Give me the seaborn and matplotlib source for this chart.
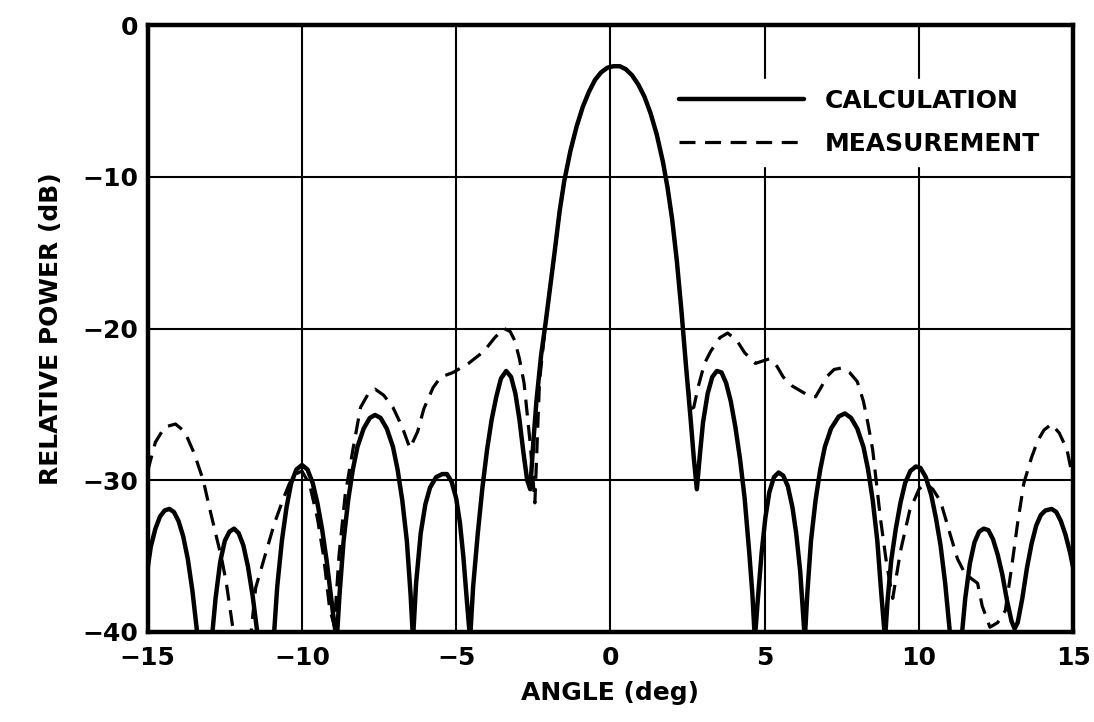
import numpy as np
import pandas as pd
import matplotlib
matplotlib.use("Agg")
import matplotlib.pyplot as plt
import seaborn as sns

# calculated pattern (solid), lobe by lobe
calc_angle = [-15.0, -14.9, -14.75, -14.6, -14.45, -14.3, -14.15, -14.0, -13.85, -13.7, -13.55, -13.4, -13.15,
              -12.9, -12.8, -12.65, -12.5, -12.35, -12.2, -12.05, -11.9, -11.75, -11.6, -11.45, -11.15,
              -10.9, -10.8, -10.65, -10.5, -10.35, -10.18, -10.0, -9.82, -9.65, -9.5, -9.35, -9.2, -9.05, -8.95,
              -8.87, -8.78, -8.65, -8.5, -8.35, -8.2, -8.0, -7.8, -7.63, -7.45, -7.25, -7.05, -6.9, -6.75, -6.6, -6.48,
              -6.4, -6.3, -6.15, -6.0, -5.85, -5.65, -5.45, -5.3, -5.15, -5.0, -4.88, -4.77, -4.66,
              -4.55, -4.45, -4.3, -4.15, -4.0, -3.85, -3.7, -3.55, -3.38, -3.22, -3.08, -2.95, -2.82, -2.7,
              -2.6, -2.5, -2.4, -2.25, -2.1, -1.95, -1.8, -1.65, -1.5, -1.3, -1.1, -0.9, -0.7, -0.5, -0.3, -0.1,
              0.1, 0.3, 0.5, 0.7, 0.9, 1.1, 1.3, 1.5, 1.7, 1.85, 2.0, 2.15, 2.3, 2.45, 2.6, 2.7,
              2.8, 2.9, 3.0, 3.15, 3.3, 3.45, 3.6, 3.75, 3.9, 4.05, 4.2, 4.35, 4.5, 4.6,
              4.68, 4.78, 4.9, 5.02, 5.15, 5.3, 5.45, 5.6, 5.75, 5.9, 6.02, 6.15,
              6.3, 6.38, 6.5, 6.65, 6.8, 6.95, 7.15, 7.4, 7.6, 7.8, 8.0, 8.2, 8.35, 8.5, 8.65, 8.78,
              8.9, 8.98, 9.1, 9.25, 9.4, 9.55, 9.72, 9.9, 10.05, 10.22, 10.4, 10.55, 10.7, 10.85, 11.0, 11.2,
              11.4, 11.5, 11.65, 11.8, 11.95, 12.1, 12.25, 12.4, 12.55, 12.7, 12.85, 13.0, 13.1,
              13.2, 13.35, 13.5, 13.65, 13.8, 13.95, 14.1, 14.3, 14.45, 14.6, 14.75, 14.9, 15.0]
calc_db = [-35.8, -34.4, -33.2, -32.4, -32.0, -31.9, -32.1, -32.7, -33.7, -35.2, -37.3, -40.0, -46.0,
           -40.0, -37.8, -35.4, -34.0, -33.4, -33.2, -33.5, -34.3, -35.7, -37.6, -40.0, -46.0,
           -40.0, -37.0, -34.0, -31.8, -30.2, -29.3, -29.0, -29.3, -30.2, -31.5, -33.2, -35.3, -37.8, -39.5,
           -40.5, -37.5, -34.0, -31.3, -29.3, -27.8, -26.6, -25.9, -25.7, -25.9, -26.6, -27.8, -29.3, -31.3, -34.0, -37.5,
           -40.5, -36.8, -33.5, -31.6, -30.5, -29.8, -29.6, -29.6, -30.1, -31.2, -32.8, -35.0, -37.8,
           -40.5, -37.0, -33.5, -30.5, -28.0, -26.0, -24.5, -23.3, -22.8, -23.2, -24.3, -26.0, -28.2, -30.0,
           -30.6, -27.5, -24.8, -21.8, -19.6, -17.2, -14.8, -12.3, -10.3, -8.3, -6.7, -5.4, -4.4, -3.6, -3.1, -2.8,
           -2.7, -2.7, -2.9, -3.3, -3.9, -4.7, -5.8, -7.2, -9.0, -10.7, -12.8, -15.5, -18.8, -22.5, -26.0, -28.5,
           -30.6, -28.3, -26.2, -24.3, -23.2, -22.8, -22.9, -23.6, -24.8, -26.5, -28.6, -31.2, -34.8, -37.5,
           -40.5, -37.8, -34.8, -32.5, -30.8, -29.8, -29.5, -29.7, -30.4, -31.8, -33.5, -36.0,
           -40.5, -37.5, -34.0, -31.3, -29.3, -27.8, -26.6, -25.8, -25.6, -25.9, -26.6, -27.8, -29.3, -31.3, -34.0, -37.5,
           -40.5, -38.0, -35.3, -33.2, -31.5, -30.2, -29.4, -29.1, -29.2, -29.8, -31.0, -32.5, -34.3, -36.8, -40.0, -46.0,
           -40.0, -37.8, -35.5, -34.1, -33.4, -33.2, -33.3, -33.9, -34.9, -36.2, -37.9, -39.3, -39.8,
           -39.4, -37.8, -35.8, -34.2, -33.0, -32.3, -32.0, -31.9, -32.1, -32.7, -33.6, -34.8, -35.8]

# measured pattern (dashed)
meas_angle = [-15.0, -14.75, -14.45, -14.1, -13.8, -13.5, -13.2, -13.0, -12.8, -12.6,
              -12.45, -12.25, -12.15, -11.8, -11.5, -11.2, -10.9, -10.6, -10.4, -10.2, -10.0,
              -9.75, -9.5, -9.3, -9.1, -8.95, -8.8, -8.6, -8.35, -8.1, -7.85, -7.63,
              -7.35, -7.05, -6.75, -6.5, -6.25, -6.05, -5.75, -5.5, -5.1, -4.6, -4.1,
              -3.75, -3.45, -3.25, -3.1, -2.95, -2.8, -2.6, -2.45, -2.3, -2.1, -1.95, -1.8, -1.65,
              -1.5, -1.3, -1.1, -0.9, -0.7, -0.5, -0.3, -0.1, 0.1, 0.3, 0.5, 0.7, 0.9, 1.1,
              1.3, 1.5, 1.7, 1.85, 2.0, 2.15, 2.3, 2.45, 2.6, 2.7,
              2.85, 3.05, 3.25, 3.55, 3.8, 4.1, 4.35, 4.7, 5.15, 5.4, 5.6, 5.9, 6.15,
              6.4, 6.65, 6.85, 7.0, 7.25, 7.5, 7.75, 8.0, 8.2, 8.35, 8.5, 8.75, 8.95,
              9.15, 9.4, 9.7, 10.0, 10.2, 10.45, 10.7, 11.0, 11.25, 11.45, 11.7, 11.9,
              12.05, 12.3, 12.55, 12.8, 13.0, 13.2, 13.4, 13.65, 13.85, 14.05, 14.3,
              14.55, 14.8, 15.0]
meas_db = [-29.4, -27.5, -26.5, -26.3, -26.8, -28.2, -30.0, -31.8, -33.5, -35.2,
           -36.8, -39.6, -40.5, -43.0, -37.1, -35.0, -32.9, -31.2, -30.2, -29.6, -29.4,
           -30.3, -32.5, -35.0, -38.5, -39.6, -35.0, -31.0, -28.0, -25.2, -24.3, -24.0,
           -24.4, -25.2, -26.5, -27.9, -26.8, -25.3, -23.9, -23.2, -22.9, -22.3, -21.5,
           -20.6, -20.0, -20.2, -20.8, -22.0, -23.6, -27.6, -31.5, -23.5, -19.6, -17.2, -14.8, -12.3,
           -10.3, -8.3, -6.7, -5.4, -4.4, -3.6, -3.1, -2.8, -2.7, -2.7, -2.9, -3.3, -3.9, -4.7,
           -5.8, -7.2, -9.0, -10.7, -12.8, -15.5, -18.8, -22.5, -25.3, -25.2,
           -23.8, -22.3, -21.5, -20.6, -20.3, -20.8, -21.6, -22.3, -22.0, -22.5, -23.2, -23.8, -24.1,
           -24.4, -24.5, -23.8, -23.2, -22.7, -22.6, -22.9, -23.5, -24.8, -26.3, -28.0, -32.5, -35.5,
           -37.8, -34.7, -32.0, -30.6, -30.2, -30.6, -31.4, -33.5, -35.2, -36.0, -36.5, -36.8,
           -38.3, -39.7, -39.4, -38.6, -35.8, -32.8, -30.2, -28.5, -27.4, -26.7, -26.3,
           -26.9, -28.0, -30.0]

calc = pd.DataFrame({"angle": calc_angle, "db": calc_db})
meas = pd.DataFrame({"angle": meas_angle, "db": meas_db})

sns.set_style("white")
plt.rcParams["font.family"] = ["DejaVu Sans"]
plt.rcParams["text.color"] = "black"
plt.rcParams["axes.labelcolor"] = "black"
plt.rcParams["xtick.color"] = "black"
plt.rcParams["ytick.color"] = "black"

fig = plt.figure(figsize=(10.94, 7.22), dpi=100)
ax = fig.add_axes([0.135, 0.125, 0.846, 0.84])

sns.lineplot(data=meas, x="angle", y="db", sort=False, color="black", lw=2.3,
             ax=ax, label="MEASUREMENT", zorder=3)
ax.lines[-1].set_dashes((5, 3))
sns.lineplot(data=calc, x="angle", y="db", sort=False, color="black", lw=3.2,
             ax=ax, label="CALCULATION", zorder=4)

ax.set_xlim(-15, 15)
ax.set_ylim(-40, 0)
ax.set_xticks(np.arange(-15, 16, 5))
ax.set_yticks(np.arange(-40, 1, 10))
ax.grid(True, color="black", lw=1.5)
for s in ax.spines.values():
    s.set_color("black")
    s.set_linewidth(3.2)
ax.tick_params(length=0, labelsize=18, colors="black")
ax.tick_params(axis="x", pad=10)
ax.tick_params(axis="y", pad=7)
for t in ax.get_xticklabels() + ax.get_yticklabels():
    t.set_fontweight("bold")

ax.set_xlabel("ANGLE (deg)", fontsize=18, fontweight="bold", labelpad=8, color="black")
ax.set_ylabel("RELATIVE POWER (dB)", fontsize=18, fontweight="bold", labelpad=14, color="black")

h, l = ax.get_legend_handles_labels()
leg = ax.legend(h[::-1], l[::-1], loc="upper right", bbox_to_anchor=(0.98, 0.92),
                frameon=True, facecolor="white", edgecolor="white", framealpha=1,
                fontsize=18, handlelength=5.0, labelspacing=0.75, borderaxespad=0.2)
for t in leg.get_texts():
    t.set_fontweight("bold")
    t.set_color("black")

fig.savefig("out.png", dpi=100)
